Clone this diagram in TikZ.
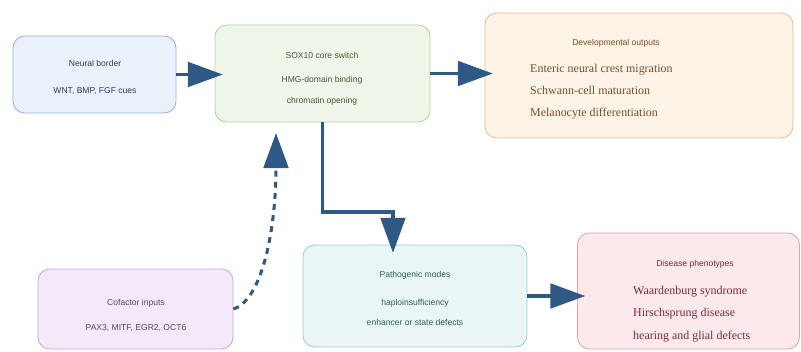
\documentclass[tikz,border=0pt]{standalone}
\usepackage{fontspec}
\setmainfont{Liberation Serif}
\setsansfont{Liberation Sans}
\usepackage{tikz}
\usetikzlibrary{arrows.meta,positioning,calc}
\definecolor{flecha}{HTML}{2D5984}
\definecolor{azulfondo}{HTML}{EAF1FB}\definecolor{azulborde}{HTML}{93B1DC}\definecolor{azultexto}{HTML}{24406A}
\definecolor{verdefondo}{HTML}{EFF6E9}\definecolor{verdeborde}{HTML}{AFD39C}\definecolor{verdetexto}{HTML}{3D5E31}
\definecolor{narfondo}{HTML}{FDF3E7}\definecolor{narborde}{HTML}{E5BD90}\definecolor{nartexto}{HTML}{7A4E25}
\definecolor{lilafondo}{HTML}{F3E9F8}\definecolor{lilaborde}{HTML}{C7A6DD}\definecolor{lilatexto}{HTML}{5E3F7E}
\definecolor{tealfondo}{HTML}{EAF6F6}\definecolor{tealborde}{HTML}{93D0CC}\definecolor{tealtexto}{HTML}{2F5E5B}
\definecolor{rosafondo}{HTML}{FCE9EB}\definecolor{rosaborde}{HTML}{E4A3A9}\definecolor{rosatexto}{HTML}{7C2B35}
\tikzset{
  caja/.style={draw,rounded corners=10pt,line width=0.7pt,inner sep=0pt},
  rotulo/.style={font=\sffamily\fontsize{7.3}{8}\selectfont,inner sep=0pt},
  lista/.style={font=\fontsize{10.2}{19}\selectfont,align=left,anchor=west,inner sep=0pt},
  flujo/.style={draw=flecha,line width=2.6pt,-{Triangle[length=1.05cm,width=0.74cm]},shorten >=-7pt}
}
\begin{document}
\begin{tikzpicture}[x=0.03cm,y=-0.03cm]
\useasboundingbox (0,0) rectangle (801,351);
\node[caja,fill=azulfondo,draw=azulborde,minimum width=4.89cm,minimum height=2.31cm] (borde) at (94.5,74.5) {};
\node[caja,fill=verdefondo,draw=verdeborde,minimum width=6.45cm,minimum height=2.91cm] (sox) at (322.5,73.5) {};
\node[caja,fill=narfondo,draw=narborde,minimum width=9.24cm,minimum height=3.75cm] (desarrollo) at (639,75.5) {};
\node[caja,fill=lilafondo,draw=lilaborde,minimum width=5.85cm,minimum height=2.4cm] (cofactor) at (135.5,309) {};
\node[caja,fill=tealfondo,draw=tealborde,minimum width=6.72cm,minimum height=3.06cm] (patogenia) at (415,296) {};
\node[caja,fill=rosafondo,draw=rosaborde,minimum width=6.66cm,minimum height=3.48cm] (fenotipo) at (688.5,291) {};

\node[rotulo,text=azultexto] (bordeA) at (95,63) {Neural border};
\node[rotulo,text=azultexto] (bordeB) at (95,91) {WNT, BMP, FGF cues};
\node[rotulo,text=verdetexto] (soxA) at (322,55) {SOX10 core switch};
\node[rotulo,text=verdetexto] (soxB) at (322,80) {HMG-domain binding};
\node[rotulo,text=verdetexto] (soxC) at (322,101) {chromatin opening};
\node[rotulo,text=nartexto] (desarrolloA) at (616,43) {Developmental outputs};
\node[lista,text=nartexto] (desarrolloB) at (530,91.5) {Enteric neural crest migration\\Schwann-cell maturation\\Melanocyte differentiation};
\node[rotulo,text=lilatexto] (cofactorA) at (136,303) {Cofactor inputs};
\node[rotulo,text=lilatexto] (cofactorB) at (136,328) {PAX3, MITF, EGR2, OCT6};
\node[rotulo,text=tealtexto] (patogeniaA) at (415,275) {Pathogenic modes};
\node[rotulo,text=tealtexto] (patogeniaB) at (415,303) {haploinsufficiency};
\node[rotulo,text=tealtexto] (patogeniaC) at (415,322) {enhancer or state defects};
\node[rotulo,text=rosatexto] (fenotipoA) at (695,264) {Disease phenotypes};
\node[lista,text=rosatexto] (fenotipoB) at (633,314) {Waardenburg syndrome\\Hirschsprung disease\\hearing and glial defects};

\coordinate (codo) at (393,212);
\coordinate (punta) at (276,133);
\draw[flujo] (borde.east) -- (borde.east -| sox.west);
\draw[flujo] (sox.east) -- (sox.east -| desarrollo.west);
\draw[flujo] (sox.south) |- (codo) -- (codo |- patogenia.north);
\draw[flujo] (patogenia.east) -- (patogenia.east -| fenotipo.west);
\draw[flujo,shorten >=0pt,dash pattern=on 5pt off 4.5pt] (cofactor.east) .. controls (262,300) and (276,230) .. (punta);
\end{tikzpicture}
\end{document}
